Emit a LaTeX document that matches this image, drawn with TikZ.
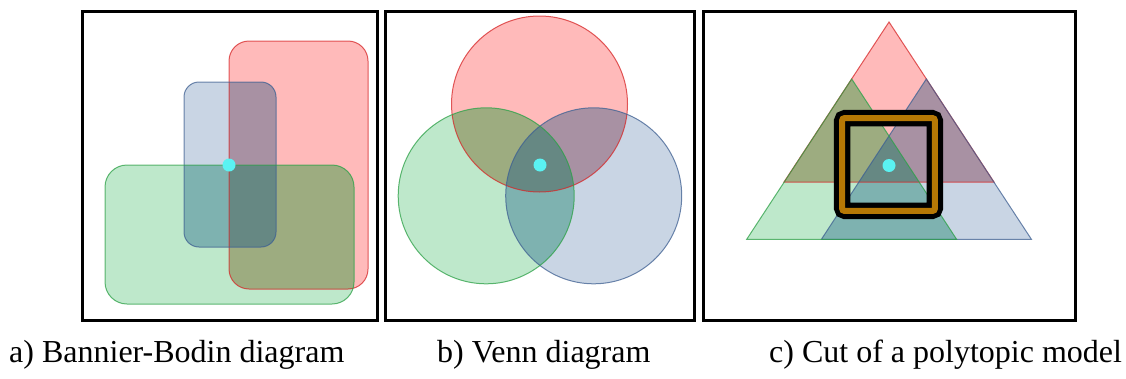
\documentclass[tikz,border=0pt]{standalone}
\usepackage{fontspec}
\setmainfont{Liberation Serif}
\definecolor{cR}{RGB}{255,186,186}
\definecolor{cB}{RGB}{201,213,228}
\definecolor{cG}{RGB}{190,232,203}
\definecolor{cRB}{RGB}{168,145,163}
\definecolor{cGB}{RGB}{126,178,176}
\definecolor{cRG}{RGB}{157,172,128}
\definecolor{cRGB}{RGB}{102,136,131}
\definecolor{lR}{RGB}{214,39,40}
\definecolor{lB}{RGB}{62,95,145}
\definecolor{lG}{RGB}{44,160,70}
\definecolor{dotc}{RGB}{90,242,242}
\definecolor{sqor}{RGB}{182,120,5}
\newcommand\rA{[rounded corners=20pt] (229,41) rectangle (368,289)}
\newcommand\bA{[rounded corners=15pt] (184,82) rectangle (276,247)}
\newcommand\gA{[rounded corners=22pt] (105,165) rectangle (354,304)}
\newcommand\rB{(539.5,104) circle[radius=88pt]}
\newcommand\gB{(486.2,195.8) circle[radius=88pt]}
\newcommand\bB{(593.7,195.8) circle[radius=88pt]}
\newcommand\rC{(889,22) -- (994,182) -- (784,182) -- cycle}
\newcommand\gC{(851.7,79) -- (956.6,239.3) -- (746.7,239.3) -- cycle}
\newcommand\bC{(926.3,79) -- (1031.4,239.3) -- (821.4,239.3) -- cycle}
\newcommand\venn[3]{%
  \fill[cR] #1; \fill[cB] #2; \fill[cG] #3;
  \begin{scope}\clip #1; \fill[cRB] #2; \end{scope}
  \begin{scope}\clip #1; \fill[cRG] #3; \end{scope}
  \begin{scope}\clip #2; \fill[cGB] #3; \end{scope}
  \begin{scope}\clip #1; \clip #2; \fill[cRGB] #3; \end{scope}
  \draw[outl, lR] #1; \draw[outl, lB] #2; \draw[outl, lG] #3;}
\begin{document}
\begin{tikzpicture}[x=1pt, y=-1pt,
  frame/.style={draw=black, line width=3pt},
  outl/.style={line width=1pt, draw opacity=0.75},
  dot/.style={fill=dotc},
  caption/.style={anchor=base west, inner sep=0pt, font=\fontsize{32}{38}\selectfont}]
\useasboundingbox (0,0) rectangle (1126,378);
% panel a
\venn{\rA}{\bA}{\gA}
\fill[dot] (229,165) circle[radius=6.5pt];
\draw[frame] (82.5,11) rectangle (377,320);
% panel b
\venn{\rB}{\bB}{\gB}
\fill[dot] (540,165) circle[radius=6.5pt];
\draw[frame] (385,11) rectangle (694.5,320.5);
% panel c
\venn{\rC}{\bC}{\gC}
\draw[black, line width=16.5pt, rounded corners=3pt] (842.2,118.2) rectangle (934.8,210.8);
\draw[sqor, line width=6pt, rounded corners=2pt] (842.2,118.2) rectangle (934.8,210.8);
\fill[dot] (889,165.5) circle[radius=6.5pt];
\draw[frame] (703,11) rectangle (1075,320.5);
% captions
\node[caption] (capa) at (9,362) {a) Bannier-Bodin diagram};
\node[caption] (capb) at (437,362) {b) Venn diagram};
\node[caption] (capc) at (769,362) {c) Cut of a polytopic model};
\end{tikzpicture}
\end{document}
